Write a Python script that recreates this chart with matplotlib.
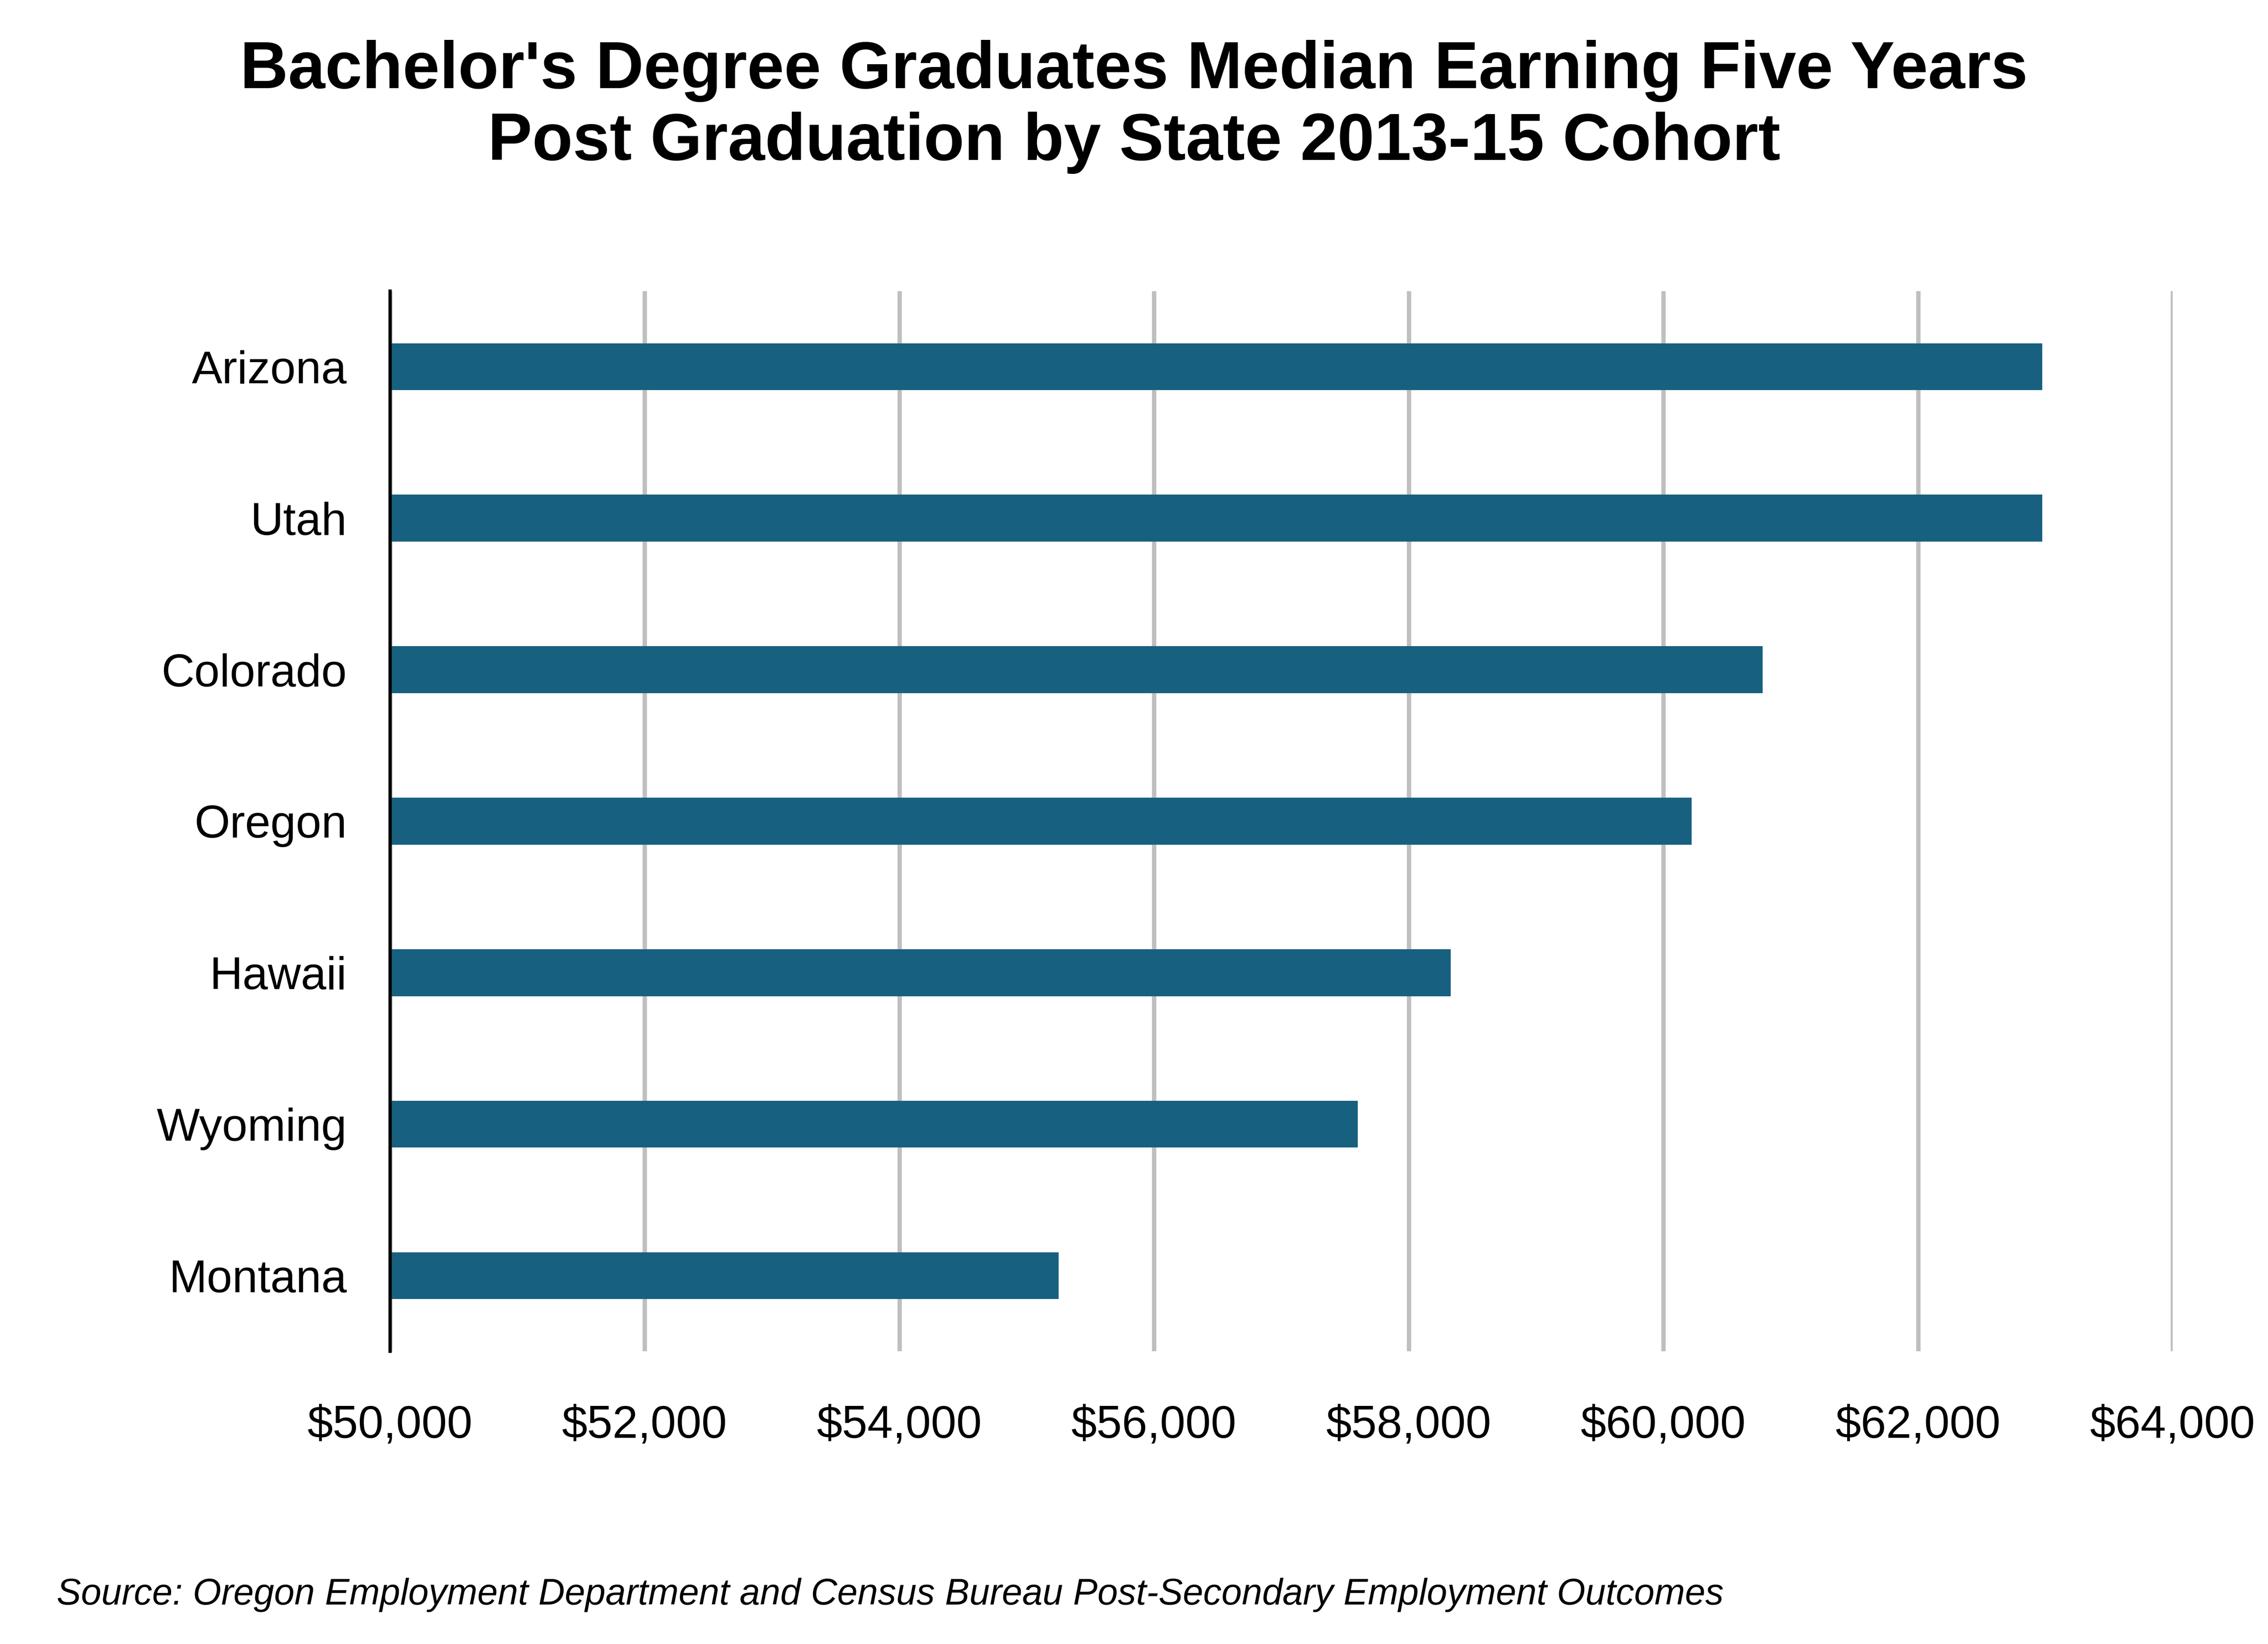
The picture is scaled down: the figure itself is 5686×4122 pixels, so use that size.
import matplotlib
matplotlib.use("Agg")
import matplotlib.pyplot as plt
from matplotlib.ticker import FuncFormatter

states = ["Arizona", "Utah", "Colorado", "Oregon", "Hawaii", "Wyoming", "Montana"]
earnings = [62975, 62975, 60780, 60220, 58330, 57600, 55250]

plt.rcParams["font.family"] = ["Liberation Sans", "DejaVu Sans"]

fig = plt.figure(figsize=(5686 / 300, 4122 / 300), dpi=300)
ax = fig.add_axes([0.172, 0.178, 0.786, 0.645])

ax.barh(range(len(states)), [e - 50000 for e in earnings], left=50000,
        height=0.31, color="#17607F", zorder=3)
ax.set_xlim(50000, 64000)
ax.set_ylim(6.5, -0.5)
ax.set_yticks(range(len(states)))
ax.set_yticklabels(states)
ax.set_xticks(range(50000, 64001, 2000))
ax.xaxis.set_major_formatter(FuncFormatter(lambda v, _: f"${v:,.0f}"))
ax.tick_params(axis="x", length=0, pad=32, labelsize=27.5)
ax.tick_params(axis="y", length=0, pad=26, labelsize=27.5)
ax.grid(axis="x", color="#BFBFBF", linewidth=2.6, zorder=0)
for s in ["top", "right", "bottom"]:
    ax.spines[s].set_visible(False)
ax.spines["left"].set_linewidth(2)
ax.spines["left"].set_zorder(4)

fig.text(0.5, 0.935, "Bachelor's Degree Graduates Median Earning Five Years\n"
         "Post Graduation by State 2013-15 Cohort",
         ha="center", va="center", fontsize=40, fontweight="bold", linespacing=1.2)
fig.text(0.025, 0.024, "Source: Oregon Employment Department and Census Bureau "
         "Post-Secondary Employment Outcomes", fontsize=22, style="italic")

fig.savefig("out.png", dpi=300)
